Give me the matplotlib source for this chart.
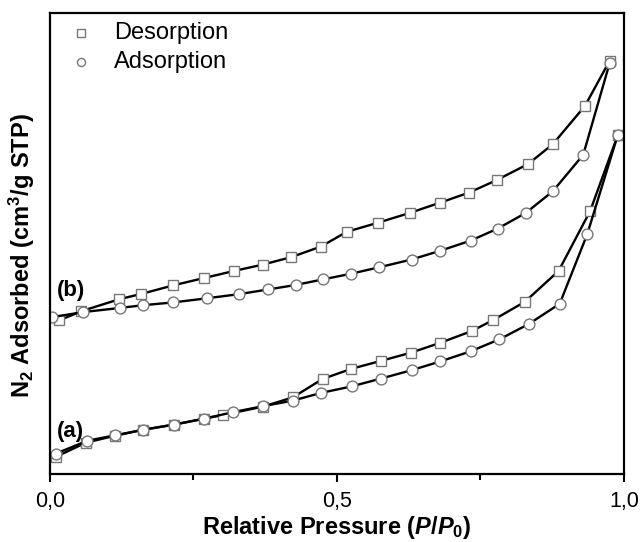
import matplotlib
matplotlib.use('Agg')
import matplotlib.pyplot as plt
from matplotlib.ticker import FuncFormatter

plt.rcParams['font.family'] = ['Liberation Sans', 'DejaVu Sans']
plt.rcParams['mathtext.fontset'] = 'custom'
plt.rcParams['mathtext.rm'] = 'Liberation Sans:bold'
plt.rcParams['mathtext.it'] = 'Liberation Sans:bold:italic'
plt.rcParams['mathtext.bf'] = 'Liberation Sans:bold'

# sample (b), shifted up
b_des_x = [0.016, 0.055, 0.121, 0.158, 0.215, 0.269, 0.320, 0.371, 0.420, 0.472,
           0.517, 0.572, 0.627, 0.679, 0.730, 0.778, 0.833, 0.876, 0.932, 0.975]
b_des_y = [0.333, 0.353, 0.379, 0.390, 0.409, 0.425, 0.440, 0.454, 0.470, 0.493,
           0.525, 0.545, 0.566, 0.588, 0.610, 0.637, 0.672, 0.715, 0.798, 0.896]
b_ads_x = [0.004, 0.058, 0.122, 0.163, 0.215, 0.274, 0.330, 0.380, 0.429, 0.476,
           0.524, 0.573, 0.630, 0.680, 0.733, 0.780, 0.829, 0.876, 0.929, 0.975]
b_ads_y = [0.340, 0.351, 0.360, 0.366, 0.372, 0.381, 0.390, 0.400, 0.410, 0.422,
           0.434, 0.448, 0.465, 0.484, 0.506, 0.532, 0.566, 0.613, 0.692, 0.891]

# sample (a)
a_des_x = [0.010, 0.063, 0.114, 0.163, 0.216, 0.269, 0.302, 0.371, 0.423, 0.475,
           0.525, 0.576, 0.629, 0.679, 0.735, 0.771, 0.827, 0.886, 0.941, 0.989]
a_des_y = [0.037, 0.068, 0.083, 0.096, 0.107, 0.120, 0.128, 0.146, 0.166, 0.206,
           0.228, 0.245, 0.263, 0.284, 0.310, 0.333, 0.373, 0.440, 0.570, 0.734]
a_ads_x = [0.010, 0.065, 0.114, 0.163, 0.216, 0.269, 0.319, 0.371, 0.423, 0.473,
           0.526, 0.577, 0.630, 0.680, 0.733, 0.783, 0.834, 0.888, 0.936, 0.989]
a_ads_y = [0.044, 0.072, 0.084, 0.096, 0.107, 0.120, 0.134, 0.147, 0.159, 0.176,
           0.190, 0.207, 0.225, 0.244, 0.266, 0.292, 0.325, 0.369, 0.520, 0.734]

fig = plt.figure(figsize=(6.4, 5.42), dpi=100)
ax = fig.add_axes([0.078, 0.1255, 0.897, 0.851])

mk = dict(color='black', lw=1.7, ms=7.4, mfc='white', mec='#777777', mew=1.0)
for xs, ys in [(b_des_x, b_des_y), (a_des_x, a_des_y)]:
    ax.plot(xs, ys, marker='s', **mk)
for xs, ys in [(b_ads_x, b_ads_y), (a_ads_x, a_ads_y)]:
    ax.plot(xs, ys, marker='o', **dict(mk, ms=7.8))

ax.set_xlim(0, 1.0)
ax.set_ylim(0, 1.0)
ax.set_yticks([])
ax.set_xticks([0, 0.5, 1.0])
ax.set_xticks([0.25, 0.75], minor=True)
ax.xaxis.set_major_formatter(FuncFormatter(lambda v, p: f'{v:.1f}'.replace('.', ',')))
ax.tick_params(axis='x', which='major', direction='out', length=6, width=1.5,
               labelsize=15.5, pad=6)
ax.tick_params(axis='x', which='minor', direction='out', length=4.3, width=1.5)
for s in ax.spines.values():
    s.set_linewidth(1.6)

ax.set_xlabel(r'Relative Pressure ($P/P_0$)', fontsize=17, fontweight='bold', labelpad=2)
ax.set_ylabel(r'N$_2$ Adsorbed (cm$^3$/g STP)', fontsize=17, fontweight='bold')
ax.yaxis.set_label_coords(-0.022, 0.474)

ax.text(0.012, 0.093, '(a)', transform=ax.transAxes, fontsize=16, fontweight='bold',
        va='center')
ax.text(0.012, 0.397, '(b)', transform=ax.transAxes, fontsize=16, fontweight='bold',
        va='center')

# legend: markers only
ax.plot([0.055], [0.957], marker='s', ms=5.2, mfc='white', mec='#777777', mew=1.0,
        ls='none', transform=ax.transAxes)
ax.plot([0.055], [0.894], marker='o', ms=5.8, mfc='white', mec='#777777', mew=1.0,
        ls='none', transform=ax.transAxes)
ax.text(0.112, 0.957, 'Desorption', transform=ax.transAxes, fontsize=17, va='center')
ax.text(0.112, 0.894, 'Adsorption', transform=ax.transAxes, fontsize=17, va='center')

fig.savefig('out.png', dpi=100)
